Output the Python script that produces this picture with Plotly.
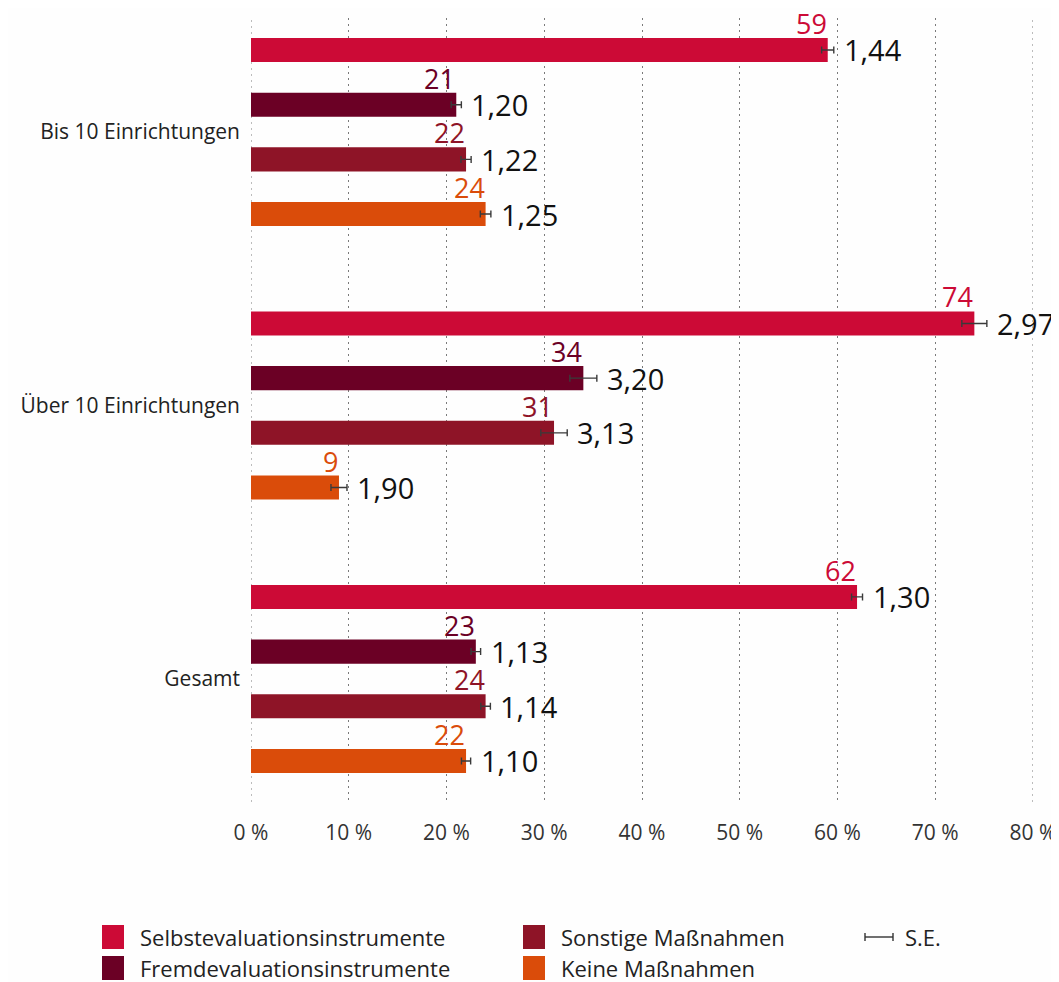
import plotly.graph_objects as go

categories = ["Bis 10 Einrichtungen", "Über 10 Einrichtungen", "Gesamt"]
series = ["Selbstevaluationsinstrumente", "Fremdevaluationsinstrumente",
          "Sonstige Maßnahmen", "Keine Maßnahmen"]

selbst = [59, 74, 62]
fremd = [21, 34, 23]
sonstige = [22, 31, 24]
keine = [24, 9, 22]

se_selbst = [1.44, 2.97, 1.30]
se_fremd = [1.20, 3.20, 1.13]
se_sonstige = [1.22, 3.13, 1.14]
se_keine = [1.25, 1.90, 1.10]

# error-bar half widths as drawn in the picture (percentage points)
err_selbst = [0.62, 1.28, 0.56]
err_fremd = [0.52, 1.38, 0.49]
err_sonstige = [0.52, 1.35, 0.49]
err_keine = [0.54, 0.82, 0.47]

x_ticks = [0, 10, 20, 30, 40, 50, 60, 70, 80]
x_ticklabels = ["0 %", "10 %", "20 %", "30 %", "40 %", "50 %", "60 %", "70 %", "80 %"]
se_legend_label = "S.E."

colors = ["#CC0A36", "#6B0025", "#8E1427", "#DA4C0A"]

values = [selbst, fremd, sonstige, keine]
ses = [se_selbst, se_fremd, se_sonstige, se_keine]
errs = [err_selbst, err_fremd, err_sonstige, err_keine]

n_series = len(series)
slot = n_series + 1

# ---- figure geometry (pixels inside the figure) ----
W, H = 1051, 974
ML, MR, MT, MB = 243, 26, 10, 180
PW, PH = W - ML - MR, H - MT - MB


def px_x(px):   # figure pixel -> paper x
    return (px - ML) / PW


def px_y(py):   # figure pixel (from top) -> paper y
    return (H - MB - py) / PH


fig = go.Figure()
annotations = []
shapes = []
font_main = "Open Sans, sans-serif"
grid_style = dict(color="#7a7a7a", width=1, dash="2px,4px")

# edge gridlines (0 % and 80 %), same look as the inner grid
for xv in (x_ticks[0], x_ticks[-1]):
    shapes.append(dict(type="line", xref="x", yref="paper", x0=xv, x1=xv,
                       y0=0, y1=1, line=grid_style, layer="below"))

for i, name in enumerate(series):
    ypos = [g * slot + i for g in range(len(categories))]
    fig.add_trace(go.Bar(
        x=values[i], y=ypos, orientation="h", name=name,
        marker=dict(color=colors[i], line=dict(width=0)),
        width=0.44,
        error_x=dict(type="data", array=errs[i], color="#3a3a3a",
                     thickness=1.4, width=3.5),
        showlegend=False, hoverinfo="x+name",
    ))
    for g in range(len(categories)):
        v = values[i][g]
        annotations.append(dict(
            x=v, y=ypos[g], xref="x", yref="y", text=str(v),
            showarrow=False, xanchor="right", yanchor="bottom", yshift=6,
            xshift=1,
            font=dict(family=font_main, size=27, color=colors[i]),
        ))
        annotations.append(dict(
            x=v + errs[i][g], y=ypos[g], xref="x", yref="y",
            text=f"{ses[i][g]:.2f}".replace(".", ","),
            showarrow=False, xanchor="left", yanchor="middle", xshift=8,
            font=dict(family=font_main, size=29, color="#111111"),
        ))

# ---- legend (manual, to get large square keys) ----
leg_cols_px = [94, 515]       # left of square
leg_rows_px = [929, 960]      # row centre
sq_w, sq_h = 22, 24
leg_items = [(0, 0), (0, 1), (1, 0), (1, 1)]  # (col,row) for each series
for i, name in enumerate(series):
    c, r = leg_items[i]
    x0 = leg_cols_px[c]
    yc = leg_rows_px[r]
    shapes.append(dict(type="rect", xref="paper", yref="paper",
                       x0=px_x(x0), x1=px_x(x0 + sq_w),
                       y0=px_y(yc + sq_h / 2), y1=px_y(yc - sq_h / 2),
                       fillcolor=colors[i], line=dict(width=0)))
    annotations.append(dict(x=px_x(x0 + sq_w + 14), y=px_y(yc), xref="paper",
                            yref="paper", text=name, showarrow=False,
                            xanchor="left", yanchor="middle",
                            font=dict(family=font_main, size=22, color="#222222")))
# S.E. key
se_x0, se_x1, se_y = 857, 885, leg_rows_px[0]
shapes.append(dict(type="line", xref="paper", yref="paper",
                   x0=px_x(se_x0), x1=px_x(se_x1), y0=px_y(se_y), y1=px_y(se_y),
                   line=dict(color="#333333", width=1.4)))
for xe in (se_x0, se_x1):
    shapes.append(dict(type="line", xref="paper", yref="paper",
                       x0=px_x(xe), x1=px_x(xe), y0=px_y(se_y - 4), y1=px_y(se_y + 4),
                       line=dict(color="#333333", width=1.4)))
annotations.append(dict(x=px_x(se_x1 + 10), y=px_y(se_y), xref="paper", yref="paper",
                        text=se_legend_label, showarrow=False, xanchor="left",
                        yanchor="middle",
                        font=dict(family=font_main, size=22, color="#222222")))

last_pos = (len(categories) - 1) * slot + n_series - 1

fig.update_layout(
    width=W, height=H,
    paper_bgcolor="#FEFEFE", plot_bgcolor="#FEFEFE",
    margin=dict(l=ML, r=MR, t=MT, b=MB, autoexpand=False),
    barmode="overlay",
    showlegend=False,
    xaxis=dict(
        range=[0, 80], tickvals=x_ticks, ticktext=x_ticklabels,
        showgrid=True, gridcolor=grid_style["color"], gridwidth=1,
        griddash=grid_style["dash"],
        zeroline=False, showline=False,
        tickfont=dict(family=font_main, size=21, color="#333333"),
        ticklabelstandoff=16,
    ),
    yaxis=dict(
        range=[last_pos + 0.75, -0.585],
        tickvals=[g * slot + (n_series - 1) / 2 for g in range(len(categories))],
        ticktext=categories, showgrid=False, zeroline=False, showline=False,
        tickfont=dict(family=font_main, size=21, color="#222222"),
        ticklabelstandoff=10,
    ),
    annotations=annotations,
    shapes=shapes,
)

fig.write_html("out.html")
